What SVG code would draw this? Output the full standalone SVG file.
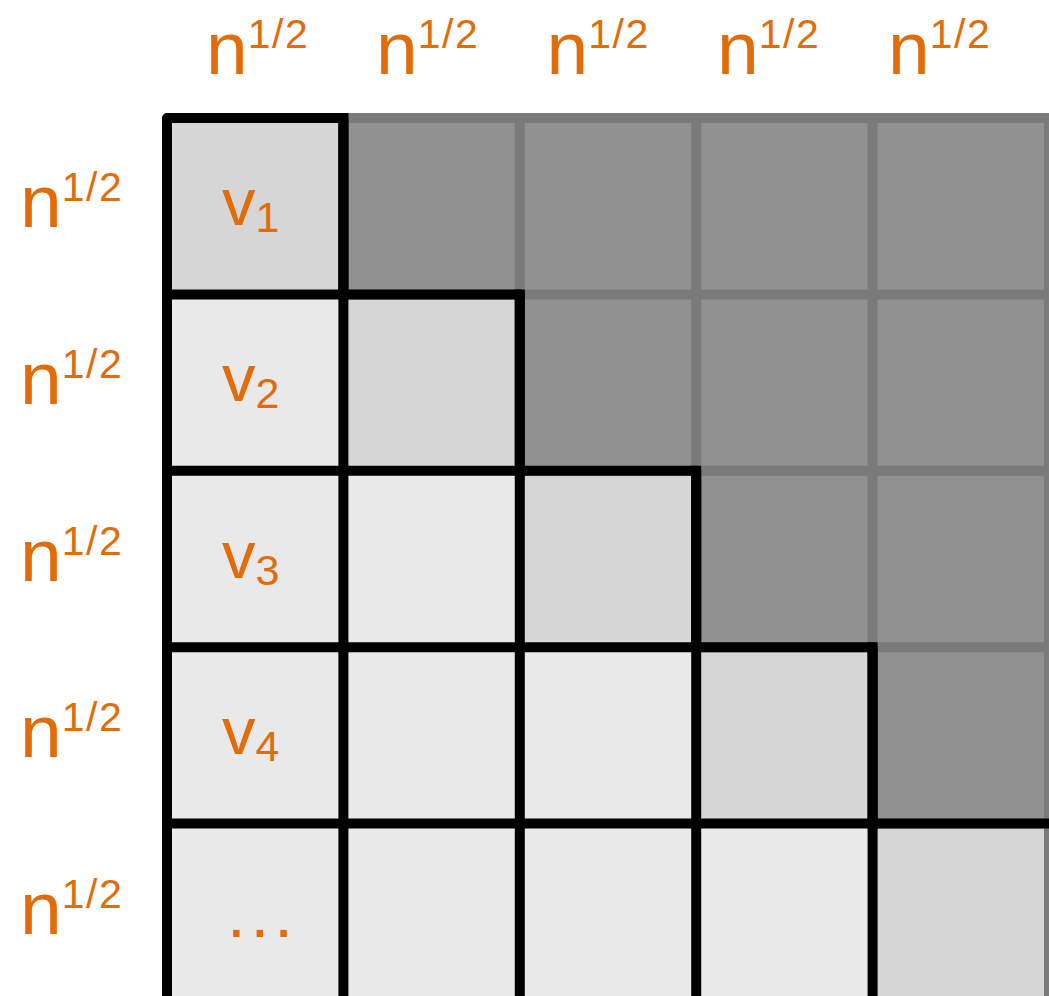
<svg xmlns="http://www.w3.org/2000/svg" width="1049" height="996" viewBox="0 0 1049 996">
<style>
.lbl{font-family:"Liberation Sans",Arial,sans-serif;fill:#e36c0a;font-size:75px}
.sup{font-size:41px;letter-spacing:1.5px}
.v{font-family:"Liberation Sans",Arial,sans-serif;fill:#e36c0a;font-size:67px}
.sub{font-size:43px}
.dark{fill:#919191}
.diag{fill:#d6d6d6}
.low{fill:#e9e9e9}
.grid{stroke:#7a7a7a;stroke-width:10;fill:none}
.blk{stroke:#000;stroke-width:10;fill:none;stroke-linejoin:round;stroke-linecap:square}
</style>
<rect width="1049" height="996" fill="#fff"/>
<g id="matrix">
<rect class="dark" x="167" y="118" width="890" height="890"/>
<rect class="diag" x="167" y="118" width="176.4" height="176.4"/>
<rect class="low" x="167" y="294.4" width="176.4" height="710"/>
<rect class="diag" x="343.4" y="294.4" width="176.4" height="176.4"/>
<rect class="low" x="343.4" y="470.8" width="176.4" height="540"/>
<rect class="diag" x="519.8" y="470.8" width="176.4" height="176.4"/>
<rect class="low" x="519.8" y="647.2" width="176.4" height="360"/>
<rect class="diag" x="696.2" y="647.2" width="176.4" height="176.4"/>
<rect class="low" x="696.2" y="823.6" width="176.4" height="180"/>
<rect class="diag" x="872.6" y="823.6" width="176.4" height="180"/>
</g>
<g id="connectors">
<path class="grid" d="M167,118H1060M343.4,294.4H1060M519.8,470.8H1060M696.2,647.2H1060M872.6,823.6H1060M343.4,118V300M519.8,118V480M696.2,118V650M872.6,118V830M1049,118V1010"/>
<path class="blk" d="M167,1010V118H343.4V294.4H519.8V470.8H696.2V647.2H872.6V823.6H1060"/>
<path class="blk" d="M343.4,118V1010M519.8,294.4V1010M696.2,470.8V1010M872.6,647.2V1010M167,294.4H343.4M167,470.8H519.8M167,647.2H696.2M167,823.6H872.6"/>
</g>
<g id="top-labels">
<text class="lbl" x="206" y="74">n<tspan class="sup" dy="-26">1/2</tspan></text>
<text class="lbl" x="376" y="74">n<tspan class="sup" dy="-26">1/2</tspan></text>
<text class="lbl" x="546.5" y="74">n<tspan class="sup" dy="-26">1/2</tspan></text>
<text class="lbl" x="717" y="74">n<tspan class="sup" dy="-26">1/2</tspan></text>
<text class="lbl" x="888" y="74">n<tspan class="sup" dy="-26">1/2</tspan></text>
</g>
<g id="left-labels">
<text class="lbl" x="20" y="227">n<tspan class="sup" dy="-26">1/2</tspan></text>
<text class="lbl" x="20" y="404">n<tspan class="sup" dy="-26">1/2</tspan></text>
<text class="lbl" x="20" y="580.5">n<tspan class="sup" dy="-26">1/2</tspan></text>
<text class="lbl" x="20" y="757">n<tspan class="sup" dy="-26">1/2</tspan></text>
<text class="lbl" x="20" y="934">n<tspan class="sup" dy="-26">1/2</tspan></text>
</g>
<g id="v-labels">
<text class="v" x="222" y="225">v<tspan class="sub" dy="7">1</tspan></text>
<text class="v" x="222" y="401.4">v<tspan class="sub" dy="7">2</tspan></text>
<text class="v" x="222" y="577.8">v<tspan class="sub" dy="7">3</tspan></text>
<text class="v" x="222" y="754.2">v<tspan class="sub" dy="7">4</tspan></text>
<text class="v" x="227" y="937" font-size="68" letter-spacing="5">...</text>
</g>
</svg>
